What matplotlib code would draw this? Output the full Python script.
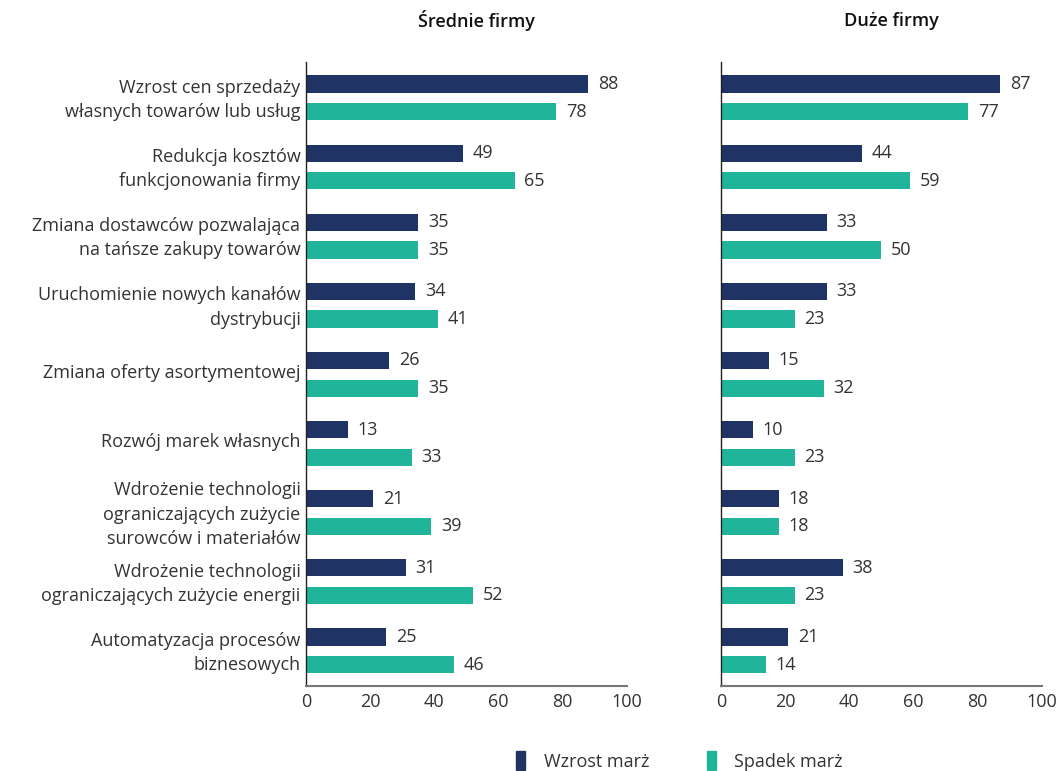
import numpy as np
import matplotlib.pyplot as plt
import matplotlib.transforms as mtransforms
from matplotlib.patches import Patch

plt.rcParams['font.family'] = ['Open Sans', 'DejaVu Sans']

categories = [
    "Wzrost cen sprzedaży\nwłasnych towarów lub usług",
    "Redukcja kosztów\nfunkcjonowania firmy",
    "Zmiana dostawców pozwalająca\nna tańsze zakupy towarów",
    "Uruchomienie nowych kanałów\ndystrybucji",
    "Zmiana oferty asortymentowej",
    "Rozwój marek własnych",
    "Wdrożenie technologii\nograniczających zużycie\nsurowców i materiałów",
    "Wdrożenie technologii\nograniczających zużycie energii",
    "Automatyzacja procesów\nbiznesowych",
]

srednie_wzrost = [88, 49, 35, 34, 26, 13, 21, 31, 25]
srednie_spadek = [78, 65, 35, 41, 35, 33, 39, 52, 46]
duze_wzrost = [87, 44, 33, 33, 15, 10, 18, 38, 21]
duze_spadek = [77, 59, 50, 23, 32, 23, 18, 23, 14]

titles = ["Średnie firmy", "Duże firmy"]
series_names = ["Wzrost marż", "Spadek marż"]

NAVY = "#1f3464"
TEAL = "#20b59b"
TEXT = "#333333"
FS = 13

fig = plt.figure(figsize=(10.6, 7.71), dpi=100)
ax1 = fig.add_axes([0.2887, 0.1103, 0.3028, 0.8093])
ax2 = fig.add_axes([0.6802, 0.1103, 0.3028, 0.8093])

y = np.arange(len(categories))
off = 0.2
h = 0.25

for ax, title, wz, sp in [(ax1, titles[0], srednie_wzrost, srednie_spadek),
                          (ax2, titles[1], duze_wzrost, duze_spadek)]:
    ax.barh(y - off, wz, height=h, color=NAVY)
    ax.barh(y + off, sp, height=h, color=TEAL)
    for yy, v in zip(y - off, wz):
        ax.text(v + 3, yy, str(v), va='center', ha='left', fontsize=FS, color=TEXT)
    for yy, v in zip(y + off, sp):
        ax.text(v + 3, yy, str(v), va='center', ha='left', fontsize=FS, color=TEXT)
    ax.set_xlim(0, 100)
    ax.set_ylim(len(categories) - 0.49, -0.52)
    ax.set_xticks([0, 20, 40, 60, 80, 100])
    ax.tick_params(axis='x', length=0, labelsize=FS, labelcolor=TEXT, pad=5)
    ax.tick_params(axis='y', length=0)
    for s in ['top', 'right']:
        ax.spines[s].set_visible(False)
    ax.spines['left'].set_color('#222222')
    ax.spines['bottom'].set_color('#777777')
    ax.spines['left'].set_linewidth(1.0)
    ax.spines['bottom'].set_linewidth(1.5)
    fig.text(ax.get_position().x0 + ax.get_position().width * 0.53, 0.973, title,
             ha='center', va='center', fontsize=FS, fontweight='semibold', color='#111111')

ax1.set_yticks(y)
ax1.set_yticklabels(categories, fontsize=FS, color=TEXT, linespacing=1.45)
ax1.tick_params(axis='y', pad=4)
# nudge category labels up a little so they sit centred on each bar pair
shift = mtransforms.ScaledTranslation(0, 3 / 100, fig.dpi_scale_trans)
for lbl in ax1.get_yticklabels():
    lbl.set_transform(lbl.get_transform() + shift)
ax2.set_yticks([])

handles = [Patch(color=NAVY), Patch(color=TEAL)]
fig.legend(handles, series_names, loc='center', bbox_to_anchor=(0.641, 0.013),
           ncol=2, frameon=False, fontsize=FS, labelcolor=TEXT,
           handlelength=0.5, handleheight=1.2, handletextpad=1.0, columnspacing=3.2)

fig.savefig("out.png", dpi=100)
